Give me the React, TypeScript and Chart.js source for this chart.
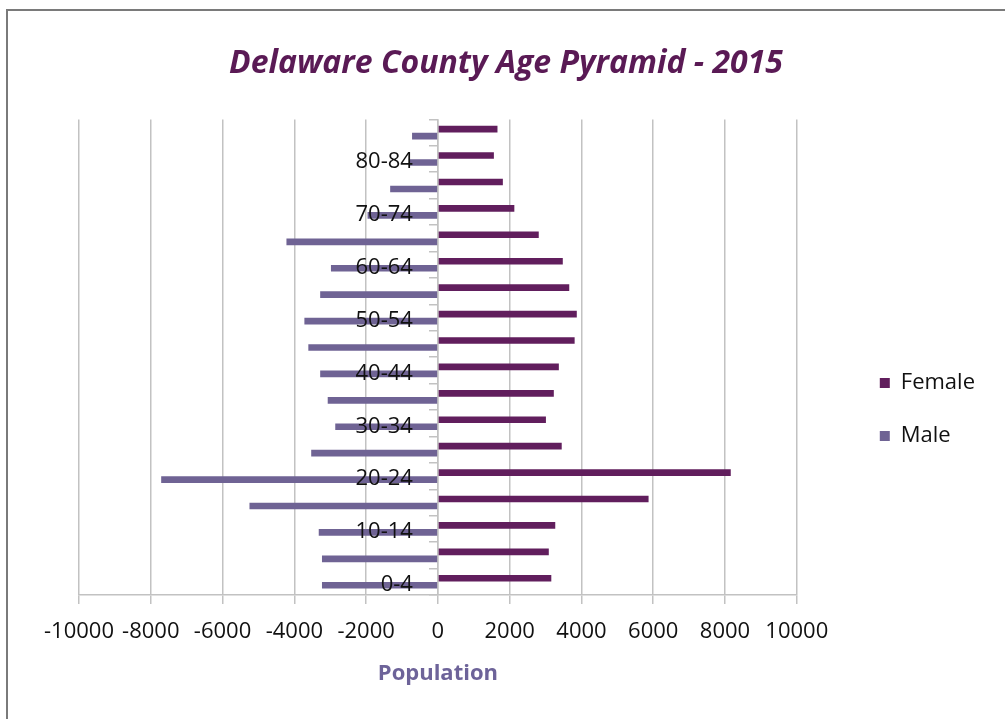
import React, { useEffect, useRef } from 'react';
import { Chart, registerables } from 'chart.js';

Chart.register(...registerables);

const ageGroups = ['0-4', '5-9', '10-14', '15-19', '20-24', '25-29', '30-34', '35-39', '40-44', '45-49', '50-54', '55-59', '60-64', '65-69', '70-74', '75-79', '80-84', '85+'];
const femaleValues = [3160, 3090, 3270, 5870, 8160, 3450, 3010, 3230, 3370, 3810, 3870, 3660, 3480, 2810, 2130, 1810, 1560, 1660];
const maleValues = [-3230, -3230, -3320, -5250, -7710, -3530, -2860, -3070, -3280, -3610, -3720, -3280, -2980, -4220, -1960, -1330, -800, -720];
const xMin = -10000;
const xMax = 10000;
const xStep = 2000;
const seriesNames = ['Female', 'Male'];
const chartTitle = 'Delaware County Age Pyramid - 2015';
const xTitle = 'Population';

const FEMALE_COLOR = '#611e5d';
const MALE_COLOR = '#6f6394';
const GRID = '#c2c2c2';
const FONT = "'Open Sans', 'DejaVu Sans', sans-serif";

export default function App() {
  const ref = useRef<HTMLCanvasElement>(null);

  useEffect(() => {
    const canvas = ref.current;
    if (!canvas) return;

    const framePlugin = {
      id: 'frame',
      beforeDraw(chart: any) {
        const { ctx } = chart;
        ctx.save();
        ctx.fillStyle = '#ffffff';
        ctx.fillRect(0, 0, chart.width, chart.height);
        ctx.strokeStyle = '#7a7a7a';
        ctx.lineWidth = 2;
        ctx.beginPath();
        ctx.moveTo(7, chart.height);
        ctx.lineTo(7, 10);
        ctx.lineTo(chart.width, 10);
        ctx.stroke();
        ctx.restore();
      },
    };

    const categoryLabelPlugin = {
      id: 'categoryLabels',
      afterDatasetsDraw(chart: any) {
        const { ctx } = chart;
        const xs = chart.scales.x;
        const ys = chart.scales.y;
        const x0 = xs.getPixelForValue(0);
        ctx.save();
        ctx.font = `22px ${FONT}`;
        ctx.fillStyle = '#111111';
        ctx.textAlign = 'right';
        ctx.textBaseline = 'middle';
        ageGroups.forEach((g, i) => {
          if (i % 2 !== 0) return;
          ctx.fillText(g, x0 - 25, ys.getPixelForValue(i) + 3);
        });
        ctx.restore();
      },
    };

    const chart = new Chart(canvas, {
      type: 'bar',
      data: {
        labels: ageGroups,
        datasets: [
          {
            label: seriesNames[0],
            data: femaleValues,
            backgroundColor: FEMALE_COLOR,
            borderWidth: 0,
            categoryPercentage: 0.53,
            barPercentage: 0.95,
          },
          {
            label: seriesNames[1],
            data: maleValues,
            backgroundColor: MALE_COLOR,
            borderWidth: 0,
            categoryPercentage: 0.53,
            barPercentage: 0.95,
          },
        ],
      },
      options: {
        indexAxis: 'y',
        animation: false,
        responsive: false,
        devicePixelRatio: 1,
        layout: { padding: { left: 27, right: 20, top: 10, bottom: 0 } },
        scales: {
          x: {
            type: 'linear',
            min: xMin,
            max: xMax,
            ticks: {
              stepSize: xStep,
              autoSkip: false,
              maxRotation: 0,
              color: '#111111',
              font: { family: FONT, size: 22 },
              padding: 15,
              callback: (v: any) => String(v),
            },
            grid: { color: GRID, lineWidth: 1.5, tickLength: 9 },
            border: { color: GRID, width: 1.5 },
            title: {
              display: true,
              text: xTitle,
              color: '#6d6399',
              font: { family: FONT, size: 22, weight: 'bold' },
              padding: { top: 0, bottom: 32 },
            },
            afterFit: (s: any) => {
              s.height = 124;
            },
          },
          y: {
            type: 'category',
            reverse: true,
            position: { x: 0 } as any,
            grid: { drawOnChartArea: false, tickLength: 8, color: GRID, lineWidth: 1.5 },
            border: { color: GRID, width: 1.5 },
            ticks: { display: false },
          },
          leftSpacer: {
            type: 'linear',
            position: 'left',
            display: true,
            grid: { display: false },
            ticks: { display: false },
            border: { display: false },
            afterFit: (s: any) => {
              s.width = 52;
            },
          },
          spacer: {
            type: 'linear',
            position: 'right',
            display: true,
            grid: { display: false },
            ticks: { display: false },
            border: { display: false },
            afterFit: (s: any) => {
              s.width = 52;
            },
          },
        } as any,
        plugins: {
          title: {
            display: true,
            text: chartTitle,
            color: '#5a1a55',
            font: { family: FONT, size: 32, weight: 'bold', style: 'italic' },
            padding: { top: 35, bottom: 36 },
          },
          legend: {
            display: true,
            position: 'right',
            maxWidth: 300,
            title: {
              display: true,
              text: ' ',
              font: { family: FONT, size: 10 },
              padding: { top: 78, bottom: 0 },
            },
            labels: {
              boxWidth: 10,
              boxHeight: 10,
              padding: 31,
              color: '#111111',
              font: { family: FONT, size: 22 },
            },
          },
          tooltip: { enabled: false },
        },
      },
      plugins: [framePlugin, categoryLabelPlugin],
    });

    return () => chart.destroy();
  }, []);

  return (
    <div style={{ position: 'fixed', left: 0, top: 0, width: 1005, height: 719 }}>
      <canvas ref={ref} width={1005} height={719} style={{ width: 1005, height: 719 }} />
    </div>
  );
}
